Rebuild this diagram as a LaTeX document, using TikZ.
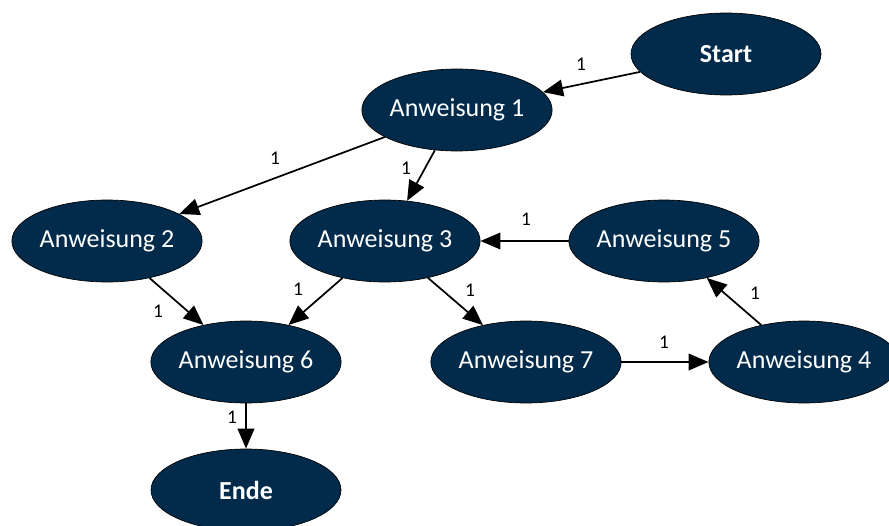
\documentclass[tikz,border=0pt]{standalone}
\usepackage{fontspec}
\setmainfont{Carlito}
\usetikzlibrary{shapes.geometric,arrows.meta}
\definecolor{navy}{RGB}{2,43,75}
\tikzset{
  state/.style={ellipse, draw=black, line width=0.5pt, fill=navy, text=white,
    minimum width=142.5pt, minimum height=61.5pt, inner sep=0pt,
    font=\fontsize{19.5}{22}\selectfont},
  flow/.style={draw=black, line width=1.3pt,
    -{Triangle[length=15pt,width=12.5pt]}},
  lbl/.style={font=\fontsize{14.5}{16}\selectfont, text=black, inner sep=0pt}
}
\begin{document}
\begin{tikzpicture}[x=0.75pt,y=-0.75pt]
  \useasboundingbox (0,0) rectangle (889,525);
  \begin{scope}
    \clip (0,0) rectangle (889,525);
    \node[state] (start) at (726,54) {\bfseries Start};
    \node[state] (a1) at (457,110) {Anweisung 1};
    \node[state] (a2) at (107,241) {Anweisung 2};
    \node[state] (a3) at (385,241) {Anweisung 3};
    \node[state] (a5) at (664,241) {Anweisung 5};
    \node[state] (a6) at (246,362) {Anweisung 6};
    \node[state] (a7) at (526,362) {Anweisung 7};
    \node[state] (a4) at (804,362) {Anweisung 4};
    \node[state] (ende) at (246,490) {\bfseries Ende};
  \end{scope}

  \draw[flow] (start) -- (a1);
  \draw[flow] (a1) -- (a2);
  \draw[flow] (a1) -- (a3);
  \draw[flow] (a5) -- (a3);
  \draw[flow] (a2) -- (a6);
  \draw[flow] (a3) -- (a6);
  \draw[flow] (a3) -- (a7);
  \draw[flow] (a7) -- (a4);
  \draw[flow] (a4) -- (a5);
  \draw[flow] (a6) -- (ende);

  \node[lbl] (l1) at (581,64) {1};
  \node[lbl] (l2) at (275,158) {1};
  \node[lbl] (l3) at (406,168) {1};
  \node[lbl] (l4) at (526,219) {1};
  \node[lbl] (l5) at (158,311) {1};
  \node[lbl] (l6) at (298,289) {1};
  \node[lbl] (l7) at (470,290) {1};
  \node[lbl] (l8) at (664,342) {1};
  \node[lbl] (l9) at (755,293) {1};
  \node[lbl] (l10) at (232,417) {1};
\end{tikzpicture}
\end{document}
